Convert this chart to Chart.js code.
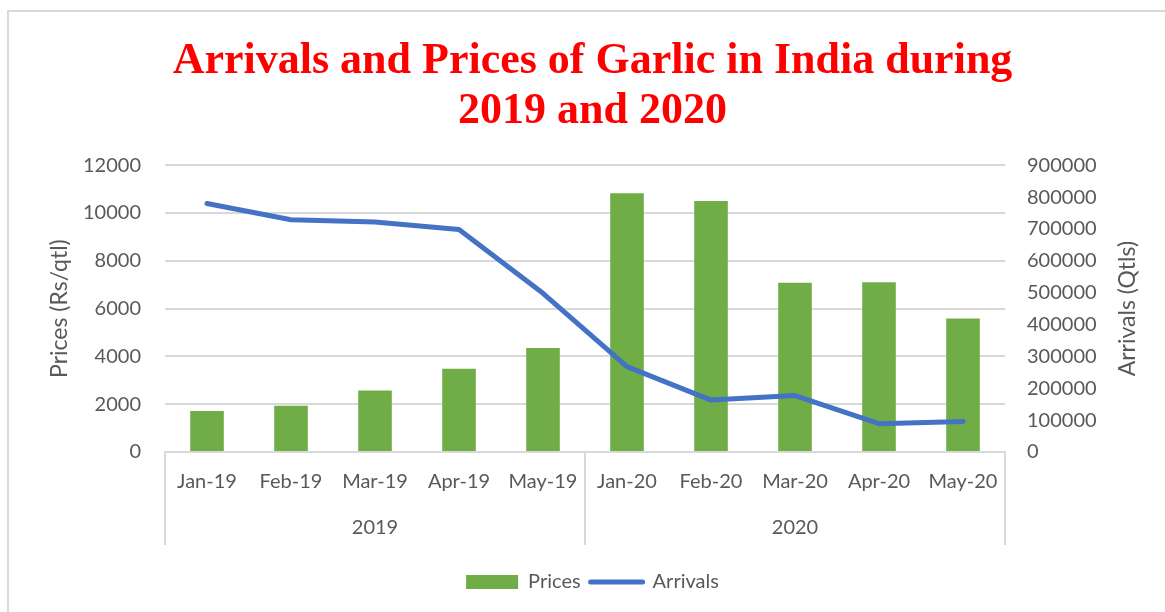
<!DOCTYPE html>
<html>
<head>
<meta charset="utf-8">
<script src="https://cdn.jsdelivr.net/npm/chart.js@4.4.1/dist/chart.umd.min.js"></script>
<style>
  html, body { margin: 0; padding: 0; background: #fff; overflow: hidden; }
  #frame { position: absolute; left: 7px; top: 10px; width: 1300px; height: 800px; border: 2px solid #d9d9d9; }
  #wrap { position: absolute; left: 0; top: 0; width: 1165px; height: 612px; }
</style>
</head>
<body>
<div id="frame"></div>
<div id="wrap"><canvas id="garlicChart" width="1165" height="612"></canvas></div>
<script>
const months = ['Jan-19', 'Feb-19', 'Mar-19', 'Apr-19', 'May-19', 'Jan-20', 'Feb-20', 'Mar-20', 'Apr-20', 'May-20'];
const years = ['2019', '2020'];
const prices = [1720, 1930, 2570, 3480, 4350, 10830, 10500, 7080, 7100, 5590];
const arrivals = [780000, 729000, 722000, 698000, 498000, 268000, 163000, 177000, 89000, 96000];
const priceTicks = [0, 2000, 4000, 6000, 8000, 10000, 12000];
const arrivalTicks = [0, 100000, 200000, 300000, 400000, 500000, 600000, 700000, 800000, 900000];

const textGrey = '#595959';
const lineGrey = '#d9d9d9';
const font = 'Lato';

// year row + separators of the two-level category axis, and the right axis title
const yearGroups = {
  id: 'yearGroups',
  afterDraw(chart) {
    const ctx = chart.ctx;
    const x = chart.scales.x;
    const per = months.length / years.length;
    const half = (x.getPixelForValue(1) - x.getPixelForValue(0)) / 2;
    ctx.save();
    ctx.strokeStyle = lineGrey;
    ctx.lineWidth = 2;
    for (let g = 0; g <= years.length; g++) {
      const idx = Math.min(g * per, months.length - 1);
      const px = g * per >= months.length ? x.getPixelForValue(idx) + half : x.getPixelForValue(idx) - half;
      ctx.beginPath();
      ctx.moveTo(px, x.top);
      ctx.lineTo(px, x.top + 93);
      ctx.stroke();
    }
    ctx.fillStyle = textGrey;
    ctx.font = '20px ' + font;
    ctx.textAlign = 'center';
    ctx.textBaseline = 'middle';
    years.forEach((yr, g) => {
      const a = x.getPixelForValue(g * per) - half;
      const b = x.getPixelForValue(g * per + per - 1) + half;
      ctx.fillText(yr, (a + b) / 2, x.top + 76);
    });

    // right axis title reads bottom to top, like the left one
    const y1 = chart.scales.y1;
    ctx.translate(y1.right - 17, (chart.chartArea.top + chart.chartArea.bottom) / 2);
    ctx.rotate(-Math.PI / 2);
    ctx.font = '23px ' + font;
    ctx.fillText('Arrivals (Qtls)', 0, 0);
    ctx.restore();
  }
};

new Chart(document.getElementById('garlicChart'), {
  type: 'bar',
  data: {
    labels: months,
    datasets: [
      {
        label: 'Prices',
        data: prices,
        backgroundColor: '#70ad47',
        yAxisID: 'y',
        order: 1,
        categoryPercentage: 0.8,
        barPercentage: 0.5
      },
      {
        type: 'line',
        label: 'Arrivals',
        data: arrivals,
        borderColor: '#4472c4',
        backgroundColor: '#4472c4',
        borderWidth: 5,
        borderCapStyle: 'round',
        borderJoinStyle: 'round',
        pointRadius: 0,
        tension: 0,
        yAxisID: 'y1',
        order: 0
      }
    ]
  },
  options: {
    responsive: false,
    animation: false,
    layout: { padding: { left: 40, right: 20, top: 0, bottom: 10 } },
    plugins: {
      title: {
        display: true,
        text: ['Arrivals and Prices of Garlic in India during', '2019 and 2020'],
        color: '#ff0000',
        font: { family: 'Liberation Serif', size: 44, weight: 'bold', lineHeight: 1.15 },
        padding: { top: 36, bottom: 28 }
      },
      legend: {
        position: 'bottom',
        labels: {
          usePointStyle: true,
          pointStyleWidth: 52,
          boxHeight: 14,
          padding: 10,
          color: textGrey,
          font: { family: font, size: 20 },
          sort: (a, b) => a.datasetIndex - b.datasetIndex,
          generateLabels(chart) {
            const items = Chart.defaults.plugins.legend.labels.generateLabels(chart);
            items.forEach(it => {
              if (it.datasetIndex === 0) {
                it.pointStyle = 'rect';
                it.lineWidth = 0;
                it.strokeStyle = '#70ad47';
              } else {
                it.pointStyle = 'line';
                it.lineWidth = 5;
                it.strokeStyle = '#4472c4';
                it.lineCap = 'round';
              }
            });
            return items;
          }
        }
      },
      tooltip: { enabled: false }
    },
    scales: {
      x: {
        offset: true,
        grid: { display: false, drawTicks: false },
        border: { display: true, color: lineGrey, width: 2 },
        ticks: { color: textGrey, font: { family: font, size: 20 }, padding: 18, maxRotation: 0, autoSkip: false },
        afterFit(scale) { scale.height = 110; }
      },
      y: {
        position: 'left',
        min: 0,
        max: 12000,
        afterBuildTicks(scale) { scale.ticks = priceTicks.map(v => ({ value: v })); },
        grid: { color: lineGrey, lineWidth: 2, drawTicks: false },
        border: { display: false },
        ticks: { color: textGrey, font: { family: font, size: 20 }, padding: 24, callback: v => String(v) },
        title: { display: true, text: 'Prices (Rs/qtl)', color: textGrey, font: { family: font, size: 23 }, padding: { top: 6, bottom: 0 } },
        afterFit(scale) { scale.width = 125; }
      },
      y1: {
        position: 'right',
        min: 0,
        max: 900000,
        afterBuildTicks(scale) { scale.ticks = arrivalTicks.map(v => ({ value: v })); },
        grid: { display: false, drawTicks: false },
        border: { display: false },
        ticks: { color: textGrey, font: { family: font, size: 20 }, padding: 22, callback: v => String(v) },
        afterFit(scale) { scale.width = 140; }
      }
    }
  },
  plugins: [yearGroups]
});
</script>
</body>
</html>
